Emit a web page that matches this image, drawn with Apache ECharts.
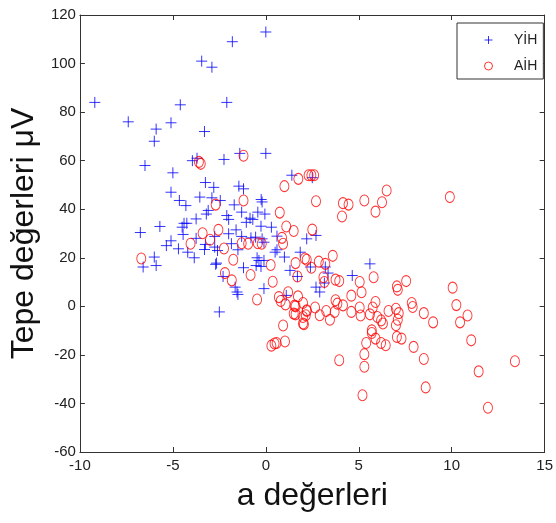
<!DOCTYPE html>
<html>
<head>
<meta charset="utf-8">
<script src="https://cdn.jsdelivr.net/npm/echarts@6/dist/echarts.min.js"></script>
<style>
  html, body { margin: 0; padding: 0; background: #fff; }
  #chart { width: 556px; height: 523px; }
</style>
</head>
<body>
<div id="chart"></div>
<script>
  // tick values
  var xTicks = [-10, -5, 0, 5, 10, 15];
  var yTicks = [-60, -40, -20, 0, 20, 40, 60, 80, 100, 120];

  // YİH  (a değeri, tepe değeri)
  var yihData = [
    [-9.2, 84], [-7.4, 76], [-6.5, 58], [-5.9, 73], [-6.0, 68], [-5.1, 75.6], [-4.6, 83], [-5.0, 55],
    [-3.45, 101], [-2.9, 98.5], [-3.3, 72], [-1.8, 109], [-2.1, 84], [0, 113], [0, 63], [-1.4, 63],
    [-3.95, 60], [-3.7, 61], [-2.25, 60.5], [1.4, 54], [2.5, 53], [-3.25, 51], [-2.8, 49], [-1.45, 49.5],
    [-1.2, 48.4], [-5.1, 47], [-4.65, 43.6], [-3.55, 45], [-2.9, 44.7], [-2.45, 43.6], [-0.25, 44],
    [-0.2, 43], [-4.3, 41.5], [-1.7, 41.8], [-3.1, 39.5], [-3.2, 38], [-1.3, 38.8], [-0.43, 38.8],
    [-0.05, 38], [-3.75, 36], [-2.1, 37.4], [-2.0, 35.8], [-0.85, 36.3], [-0.7, 35.8], [-4.4, 34.2],
    [-4.25, 34.2], [-1.05, 34.6], [-5.7, 32.9], [-6.75, 30.4], [-4.5, 32.6], [0.3, 32.6], [-0.26, 33],
    [-2.0, 29.9], [-1.6, 31.5], [-4.45, 29.6], [-2.75, 28.8], [-1.3, 28.8], [-0.8, 28.2], [-0.55, 28.5],
    [-0.2, 27.8], [0.6, 28.9], [2.2, 27.8], [2.7, 29.2], [-5.1, 27], [-5.35, 25], [-4.7, 23.7],
    [-3.75, 28], [-3.25, 25.5], [-3.3, 23.4], [-2.75, 24.4], [-2.6, 23], [-1.85, 25.8], [-1.5, 23.3],
    [-0.1, 26.4], [-6.0, 20.3], [-5.9, 16.8], [-6.6, 16.2], [-3.85, 20], [-4.2, 22.3], [-2.65, 17.8],
    [-2.7, 17.3], [-1.2, 15.9], [-0.47, 20], [-0.37, 18.9], [-0.52, 16.8], [-0.26, 16.4], [-0.1, 18.9],
    [0.5, 22.3], [0.6, 23.3], [1.0, 20.3], [1.85, 22.3], [2.4, 16.2], [3.2, 16.2], [3.35, 13.7],
    [4.65, 12.7], [5.6, 17.5], [-2.3, 12.3], [-1.65, 7.9], [-1.55, 5.9], [-1.5, 4.9], [-0.1, 7.3],
    [1.3, 14.8], [1.7, 12.3], [1.1, 4.5], [2.7, 7.9], [2.9, 5.9], [3.15, 9.6], [-2.5, -2.3]
  ];

  // AİH
  var aihData = [
    [-1.2, 62], [-3.6, 59.5], [-3.5, 58.7], [1.75, 52.5], [2.3, 54], [2.45, 54], [2.6, 54],
    [-2.7, 41.9], [-1.2, 43.6], [1.0, 49.5], [0.75, 38.6], [1.1, 32.9], [1.5, 31], [0.87, 28.2],
    [0.93, 25.8], [-3.4, 30.1], [-3.0, 27.4], [-2.55, 31.5], [-4.05, 25.8], [-2.25, 23.8], [-1.3, 26],
    [-0.95, 25.8], [-0.43, 26], [-0.22, 25.8], [-6.7, 19.7], [-1.75, 19.2], [0.26, 17], [-0.82, 12.9],
    [-2.2, 13.7], [-1.83, 10.7], [0.37, 10.1], [1.6, 17.8], [2.1, 19.7], [2.2, 19.2], [1.7, 12.3],
    [-0.47, 2.8], [0.7, 3.8], [0.8, 2.2], [1.2, 5.8], [1.06, 0.8], [1.73, 4.1], [1.55, 0.3], [2.0, 1.4],
    [2.2, -1.9], [1.5, -3], [2.15, -3.7], [6.5, 47.7], [9.9, 45], [2.7, 43.3], [4.15, 42.5], [4.45, 41.9],
    [5.3, 43.6], [6.25, 42.9], [5.9, 39], [4.1, 37], [2.5, 31.6], [3.6, 20.8], [2.85, 18.4], [3.2, 17.5],
    [2.45, 15.9], [3.75, 11], [3.95, 10.4], [5.05, 10], [5.8, 12], [3.1, 12], [3.15, 10], [7.55, 10.4],
    [7.05, 8.2], [7.1, 6.8], [10.05, 7.7], [5.15, 5.8], [4.6, 4.4], [3.75, 2.5], [3.85, 1.1], [5.9, 1.8],
    [7.85, 1.4], [10.25, 0.5], [1.6, 0], [1.6, -3.3], [2.0, -4.4], [2.0, -7.1], [2.05, -7.4], [2.2, -1.6],
    [2.65, -0.5], [0.93, -7.9], [0.3, -16.2], [0.47, -15.3], [0.58, -15.1], [1.03, -14.5], [2.9, -3.7],
    [3.25, -1.9], [3.45, -5.5], [4.15, 0.4], [3.7, -2.3], [4.6, -2.3], [5.05, -0.5], [5.1, -3.8],
    [3.95, -22.2], [5.6, -3.3], [5.75, -0.5], [6.0, -4.4], [6.3, -7.1], [6.2, -5.8], [5.7, -9.9],
    [5.7, -11], [5.9, -13.3], [5.4, -15.1], [6.2, -15.1], [6.45, -16], [5.3, -19.7], [5.3, -24.9],
    [5.2, -36.6], [6.6, -1.9], [7.0, -1], [7.15, -2.8], [7.1, -5.5], [7.0, -7.8], [7.05, -12.6],
    [7.3, -13.3], [7.9, -0.3], [8.5, -2.8], [9.0, -6.6], [7.95, -16.7], [8.5, -21.7], [8.6, -33.4],
    [10.45, -6.6], [10.85, -3.8], [11.05, -14], [11.45, -26.8], [11.95, -41.8], [13.4, -22.6]
  ];

  var plusPath = 'path://M0,6H12M6,0V12';
  var lineCol = '#333';
  var tickFont = "'Liberation Sans Narrow', 'Liberation Sans', Arial, sans-serif";
  var titleFont = "'Liberation Sans', Arial, sans-serif";

  function baseAxis(pos, show) {
    return {
      type: 'value',
      position: pos,
      axisLine: { show: true, onZero: false, lineStyle: { color: lineCol, width: 1 } },
      axisTick: { show: true, inside: true, length: 5, lineStyle: { color: lineCol } },
      axisLabel: { show: show, color: '#222', fontFamily: tickFont, fontSize: 15 },
      splitLine: { show: false }
    };
  }

  var xBottom = baseAxis('bottom', true);
  xBottom.min = xTicks[0]; xBottom.max = xTicks[xTicks.length - 1]; xBottom.interval = 5;
  xBottom.axisLabel.margin = 6;
  xBottom.name = 'a değerleri';
  xBottom.nameLocation = 'middle';
  xBottom.nameGap = 28;
  xBottom.nameTextStyle = { fontFamily: titleFont, fontSize: 32, color: '#111' };
  var xTop = baseAxis('top', false);
  xTop.min = xTicks[0]; xTop.max = xTicks[xTicks.length - 1]; xTop.interval = 5;

  var yLeft = baseAxis('left', true);
  yLeft.min = yTicks[0]; yLeft.max = yTicks[yTicks.length - 1]; yLeft.interval = 20;
  yLeft.axisLabel.margin = 4;
  yLeft.name = 'Tepe değerleri μV';
  yLeft.nameLocation = 'middle';
  yLeft.nameGap = 30;
  yLeft.nameTextStyle = { fontFamily: titleFont, fontSize: 32, color: '#111' };
  var yRight = baseAxis('right', false);
  yRight.min = yTicks[0]; yRight.max = yTicks[yTicks.length - 1]; yRight.interval = 20;

  var mychart = echarts.init(document.getElementById('chart'));
  var option = {
    animation: false,
    grid: { left: 77, right: 8, top: 15, bottom: 71 },
    legend: {
      orient: 'vertical',
      left: 457,
      top: 23,
      padding: [10, 6, 6, 27],
      itemWidth: 41,
      itemHeight: 8,
      itemGap: 12,
      borderColor: '#333',
      borderWidth: 1,
      backgroundColor: '#fff',
      textStyle: { fontFamily: titleFont, fontSize: 14, color: '#222' },
      data: [
        { name: 'YİH', icon: plusPath, itemStyle: { color: 'transparent', borderColor: '#0000ff', borderWidth: 1 } },
        { name: 'AİH', icon: 'circle', itemStyle: { color: 'transparent', borderColor: '#ff0000', borderWidth: 1 } }
      ]
    },
    xAxis: [xBottom, xTop],
    yAxis: [yLeft, yRight],
    series: [
      {
        name: 'YİH',
        type: 'scatter',
        symbol: plusPath,
        symbolSize: 11,
        itemStyle: { color: 'transparent', borderColor: '#0000ff', borderWidth: 1 },
        emphasis: { disabled: true },
        data: yihData
      },
      {
        name: 'AİH',
        type: 'scatter',
        symbol: 'circle',
        symbolSize: [9, 11],
        itemStyle: { color: 'transparent', borderColor: '#ff0000', borderWidth: 1 },
        emphasis: { disabled: true },
        data: aihData
      }
    ]
  };
  mychart.setOption(option);
</script>
</body>
</html>
